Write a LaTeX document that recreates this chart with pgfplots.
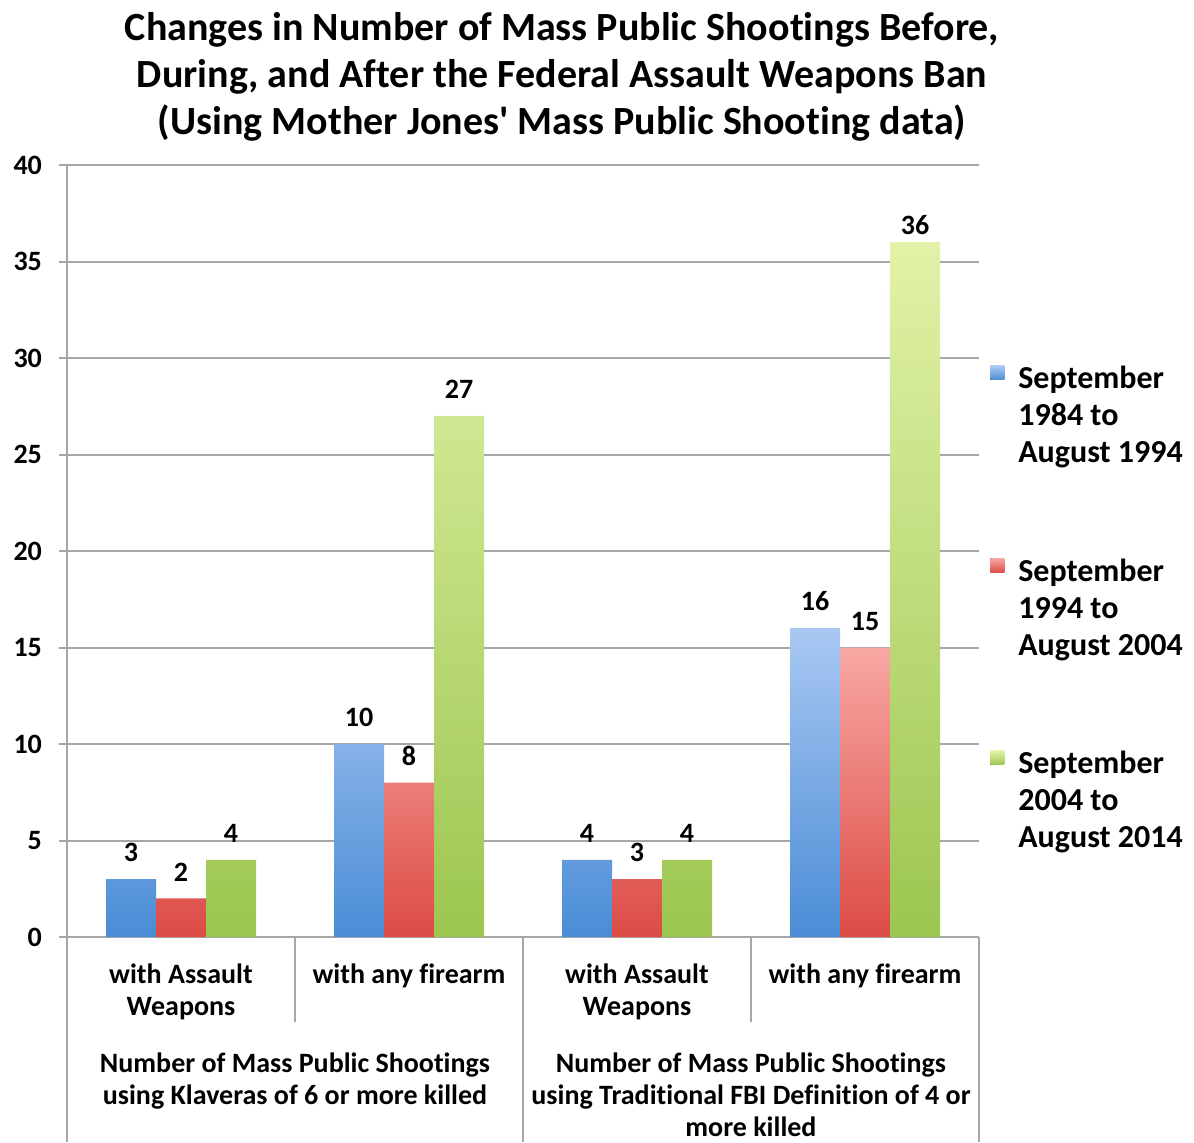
\documentclass[border=0pt]{standalone}
\usepackage{fontspec}
\setmainfont{Carlito}[Ligatures=NoCommon]
\usepackage{pgfplots}
\pgfplotsset{compat=1.18}

\definecolor{gridgray}{HTML}{A6A6A6}
\definecolor{bluetop}{HTML}{A9C8F2}
\definecolor{bluebot}{HTML}{4A8CD6}
\definecolor{redtop}{HTML}{F8A8A4}
\definecolor{redbot}{HTML}{DC4B45}
\definecolor{greentop}{HTML}{E2F2A8}
\definecolor{greenbot}{HTML}{9CC650}

\newcommand{\lblfont}{\fontsize{14}{16}\selectfont\bfseries}

\begin{document}
\begin{tikzpicture}
\useasboundingbox (0,0) rectangle (597pt,571pt);
\node[align=center, font=\fontsize{20}{23.5}\selectfont\bfseries] at (281pt,532.5pt)
  {Changes in Number of Mass Public Shootings Before,\\During, and After the Federal Assault Weapons Ban\\(Using Mother Jones\textquotesingle\ Mass Public Shooting data)};
\begin{axis}[
  at={(33.5pt,102.5pt)}, anchor=south west,
  scale only axis, width=456pt, height=386pt,
  ybar=0pt, bar width=25pt,
  xmin=-0.5, xmax=3.5, ymin=0, ymax=40,
  ytick={0,5,...,40},
  xtick={0,1,2,3},
  xticklabels={{with Assault\\Weapons},{with any firearm},{with Assault\\Weapons},{with any firearm}},
  x tick label style={align=center, font=\lblfont, yshift=-6pt},
  y tick label style={font=\lblfont, xshift=-5pt},
  /pgf/number format/assume math mode=true,
  ymajorgrids, grid style={gridgray, line width=1pt},
  axis x line*=bottom, axis y line*=left,
  axis line style={gridgray, line width=1pt, -},
  ytick style={gridgray, line width=1pt},
  xtick style={draw=none},
  tick align=outside, major tick length=4pt,
  clip=false,
  nodes near coords,
  visualization depends on=y \as \rawy,
  every node near coord/.append style={font=\lblfont, text=black,
    yshift={ifthenelse(\rawy>35,0,5)*1pt}},
  every axis plot post/.append style={
    legend image code/.code={\fill[##1, draw=none] (0pt,18pt) rectangle (7pt,25pt);}},
  legend style={at={(1.012,0.745)}, anchor=north west, draw=none, fill=none,
    inner sep=0pt, row sep=42.5pt, column sep=5pt,
    font=\fontsize{16}{18.5}\selectfont\bfseries,
    cells={anchor=west, align=left}},
]
\addplot[draw=none, top color=bluetop, bottom color=bluebot]
  coordinates {(0,3) (1,10) (2,4) (3,16)};
\addplot[draw=none, top color=redtop, bottom color=redbot]
  coordinates {(0,2) (1,8) (2,3) (3,15)};
\addplot[draw=none, top color=greentop, bottom color=greenbot]
  coordinates {(0,4) (1,27) (2,4) (3,36)};
\legend{{September\\1984 to\\August 1994},{September\\1994 to\\August 2004},{September\\2004 to\\August 2014}}

% category separators below the axis
\draw[gridgray, line width=1pt] (axis cs:0.5,0) -- ++(0pt,-42.5pt);
\draw[gridgray, line width=1pt] (axis cs:2.5,0) -- ++(0pt,-42.5pt);
\draw[gridgray, line width=1pt] (axis cs:-0.5,0) -- ++(0pt,-102.5pt);
\draw[gridgray, line width=1pt] (axis cs:1.5,0) -- ++(0pt,-102.5pt);
\draw[gridgray, line width=1pt] (axis cs:3.5,0) -- ++(0pt,-102.5pt);

% group labels
\node[anchor=north, align=center, font=\lblfont] at ([yshift=-54.5pt]axis cs:0.5,0)
  {Number of Mass Public Shootings\\using Klaveras of 6 or more killed};
\node[anchor=north, align=center, font=\lblfont] at ([yshift=-54.5pt]axis cs:2.5,0)
  {Number of Mass Public Shootings\\using Traditional FBI Definition of 4 or\\more killed};
\end{axis}
\end{tikzpicture}
\end{document}
